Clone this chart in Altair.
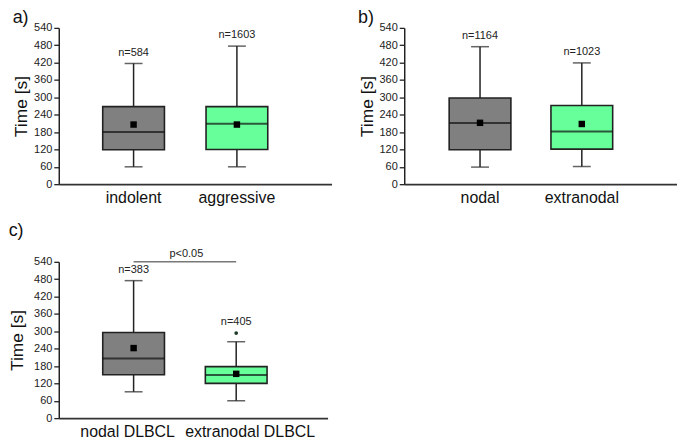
import altair as alt
import pandas as pd

# ---------------- data ----------------
a_cats = ["indolent", "aggressive"]
a_low = [60, 60]
a_q1 = [119, 120]
a_med = [180, 209]
a_q3 = [268, 268]
a_high = [417, 477]
a_mean = [206, 206]
a_n = ["n=584", "n=1603"]

b_cats = ["nodal", "extranodal"]
b_low = [59, 61]
b_q1 = [119, 121]
b_med = [211, 182]
b_q3 = [298, 272]
b_high = [475, 419]
b_mean = [212, 208]
b_n = ["n=1164", "n=1023"]

c_cats = ["nodal DLBCL", "extranodal DLBCL"]
c_low = [91, 60]
c_q1 = [150, 120]
c_med = [206, 149]
c_q3 = [296, 178]
c_high = [475, 264]
c_mean = [242, 153]
c_n = ["n=383", "n=405"]
c_outlier_cat = ["extranodal DLBCL"]
c_outlier_val = [294]
c_sig_label = ["p<0.05"]
c_sig_y = [540]

box_colors = ["#808080", "#66ff99"]
y_ticks = list(range(0, 541, 60))

FONT = "Liberation Sans"


def panel(cats, low, q1, med, q3, high, mean, n, title, width, height,
          pad_outer, align, title_pad=4, label_offset=0, title_offset=-5,
          out_cat=None, out_val=None, sig=None):
    tops = list(high)
    if out_cat:
        for oc, ov in zip(out_cat, out_val):
            i = cats.index(oc)
            tops[i] = max(tops[i], ov)
    df = pd.DataFrame({"cat": cats, "low": low, "q1": q1, "med": med, "q3": q3,
                       "high": high, "mean": mean, "n": n, "top": tops})
    xscale = alt.Scale(domain=cats, paddingInner=0, paddingOuter=pad_outer, align=align)
    xaxis = alt.Axis(title=None, labelAngle=0, ticks=False, labelFontSize=16,
                     labelPadding=5, labelColor="#111", domainColor="#333",
                     domainWidth=1.8, grid=False, labelOffset=label_offset,
                     labelOverlap=False)
    x = alt.X("cat:N", sort=cats, scale=xscale, axis=xaxis)
    yscale = alt.Scale(domain=[0, 540], nice=False, zero=True)
    yaxis = alt.Axis(title="Time [s]", values=y_ticks, grid=False, tickSize=5,
                     tickWidth=1.3, tickColor="#222", labelFontSize=11,
                     labelColor="#222", labelPadding=2, titleFontSize=17.5,
                     titleFontWeight="normal", titleColor="#111",
                     titlePadding=title_pad, domainColor="#222", domainWidth=1.5)

    def Y(f):
        return alt.Y(f, scale=yscale, axis=yaxis)

    color = alt.Color("cat:N", scale=alt.Scale(domain=cats, range=box_colors), legend=None)
    base = alt.Chart(df)
    whisk = base.mark_rule(color="#222", strokeWidth=1.5).encode(x=x, y=Y("low:Q"), y2="high:Q")
    cap_lo = base.mark_tick(color="#222", thickness=1.5, size=18).encode(x=x, y=Y("low:Q"))
    cap_hi = base.mark_tick(color="#222", thickness=1.5, size=18).encode(x=x, y=Y("high:Q"))
    box = base.mark_bar(size=62, stroke="#222", strokeWidth=1.6, opacity=1).encode(
        x=x, y=Y("q1:Q"), y2="q3:Q", color=color)
    medl = base.mark_tick(color="#111", thickness=2, size=62).encode(x=x, y=Y("med:Q"))
    meanp = base.mark_square(color="#000", size=42, opacity=1).encode(x=x, y=Y("mean:Q"))
    labels = base.mark_text(baseline="bottom", dy=-6, fontSize=11, color="#222",
                            font=FONT).encode(x=x, y=Y("top:Q"), text="n:N")
    layers = [whisk, cap_lo, cap_hi, box, medl, meanp, labels]
    if out_cat:
        odf = pd.DataFrame({"cat": out_cat, "val": out_val})
        layers.append(alt.Chart(odf).mark_circle(size=14, color="#1e3a28", opacity=1).encode(
            x=x, y=Y("val:Q")))
    if sig:
        ldf = pd.DataFrame({"cat": cats, "y": sig["y"] * len(cats)})
        layers.append(alt.Chart(ldf).mark_line(color="#333", strokeWidth=1).encode(
            x=x, y=Y("y:Q")))
        tdf = pd.DataFrame({"cat": [cats[0]], "y": sig["y"], "t": sig["t"]})
        layers.append(alt.Chart(tdf).mark_text(baseline="bottom", dy=-3, dx=sig["dx"],
                                               fontSize=11, color="#222", font=FONT).encode(
            x=x, y=Y("y:Q"), text="t:N"))
    return alt.layer(*layers).properties(
        width=width, height=height,
        view=alt.ViewBackground(stroke="transparent", strokeWidth=0),
        title=alt.TitleParams(title, anchor="start", frame="bounds", fontSize=18,
                              fontWeight="normal", font=FONT, color="#111",
                              offset=title_offset))


pa = panel(a_cats, a_low, a_q1, a_med, a_q3, a_high, a_mean, a_n, "a)",
           274, 157, 0.32, 0.35, title_pad=3)
pb = panel(b_cats, b_low, b_q1, b_med, b_q3, b_high, b_mean, b_n, "b)",
           274, 157, 0.34, 0.36, title_pad=3)
pc = panel(c_cats, c_low, c_q1, c_med, c_q3, c_high, c_mean, c_n, "c)",
           270, 157, 0.31, 0.37, title_pad=7, title_offset=8,
           label_offset={"expr": "datum.value == 'nodal DLBCL' ? -6 : 14"},
           out_cat=c_outlier_cat, out_val=c_outlier_val,
           sig={"y": c_sig_y, "t": c_sig_label, "dx": 53})

top = alt.hconcat(pa, pb, spacing=26)
chart = alt.vconcat(top, pc, spacing=17).properties(padding=0).configure_view(
    strokeWidth=0, stroke="transparent").configure(font=FONT)

chart.save("out.html", embed_options={"renderer": "svg", "actions": False})
